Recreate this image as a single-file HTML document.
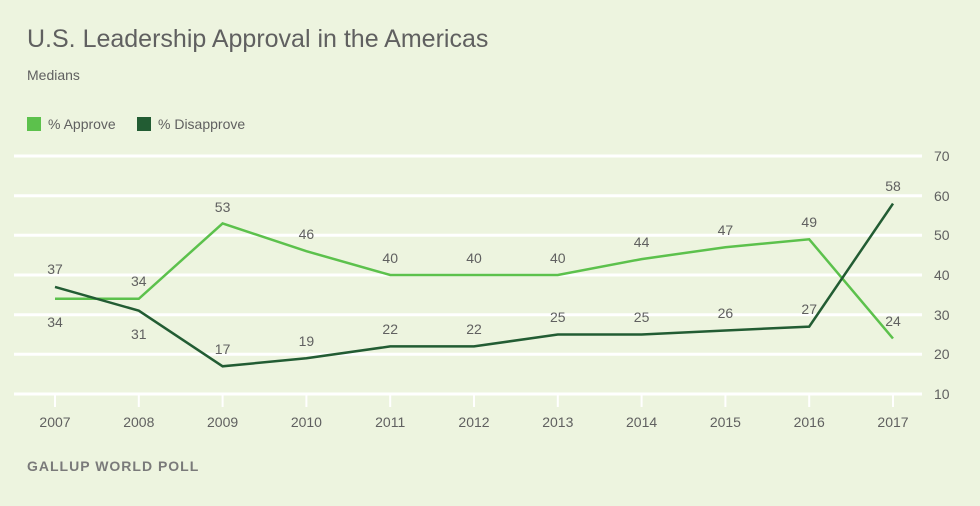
<!DOCTYPE html>
<html><head><style>
html,body{margin:0;padding:0;background:#edf4df;overflow:hidden;width:980px;height:506px;}
svg{display:block;}
svg text{font-family:"Liberation Sans",sans-serif;}
</style></head><body>
<svg width="980" height="506" xmlns="http://www.w3.org/2000/svg">
<rect width="980" height="506" fill="#edf4df"/>
<text x="27" y="47" font-size="25" fill="#606060">U.S. Leadership Approval in the Americas</text>
<text x="27" y="80" font-size="14" fill="#606060">Medians</text>
<rect x="27" y="117" width="14" height="14" fill="#5cc14c"/>
<text x="48" y="129" font-size="14" fill="#606060">% Approve</text>
<rect x="137" y="117" width="14" height="14" fill="#225c33"/>
<text x="158" y="129" font-size="14" fill="#606060">% Disapprove</text>
<g stroke="#fff" stroke-width="3">
<line x1="14" x2="922" y1="156" y2="156"/>
<line x1="14" x2="922" y1="195.7" y2="195.7"/>
<line x1="14" x2="922" y1="235.3" y2="235.3"/>
<line x1="14" x2="922" y1="275" y2="275"/>
<line x1="14" x2="922" y1="314.7" y2="314.7"/>
<line x1="14" x2="922" y1="354.3" y2="354.3"/>
<line x1="14" x2="922" y1="394" y2="394"/>
</g>
<g stroke="#fff" stroke-width="2">
<line x1="55" x2="55" y1="394" y2="407"/><line x1="138.8" x2="138.8" y1="394" y2="407"/><line x1="222.6" x2="222.6" y1="394" y2="407"/><line x1="306.4" x2="306.4" y1="394" y2="407"/><line x1="390.2" x2="390.2" y1="394" y2="407"/><line x1="474" x2="474" y1="394" y2="407"/><line x1="557.8" x2="557.8" y1="394" y2="407"/><line x1="641.6" x2="641.6" y1="394" y2="407"/><line x1="725.4" x2="725.4" y1="394" y2="407"/><line x1="809.2" x2="809.2" y1="394" y2="407"/><line x1="893" x2="893" y1="394" y2="407"/>
</g>
<g font-size="14" fill="#606060">
<text x="934" y="161">70</text><text x="934" y="201">60</text><text x="934" y="240">50</text><text x="934" y="280">40</text><text x="934" y="320">30</text><text x="934" y="359">20</text><text x="934" y="399">10</text>
</g>
<g font-size="14" fill="#606060" text-anchor="middle">
<text x="55" y="427">2007</text><text x="138.8" y="427">2008</text><text x="222.6" y="427">2009</text><text x="306.4" y="427">2010</text><text x="390.2" y="427">2011</text><text x="474" y="427">2012</text><text x="557.8" y="427">2013</text><text x="641.6" y="427">2014</text><text x="725.4" y="427">2015</text><text x="809.2" y="427">2016</text><text x="893" y="427">2017</text>
</g>
<polyline fill="none" stroke="#5cc14c" stroke-width="2.5" points="55,298.8 138.8,298.8 222.6,223.4 306.4,251.2 390.2,275 474,275 557.8,275 641.6,259.1 725.4,247.2 809.2,239.3 893,338.5"/>
<polyline fill="none" stroke="#225c33" stroke-width="2.5" points="55,286.9 138.8,310.7 222.6,366.3 306.4,358.3 390.2,346.4 474,346.4 557.8,334.5 641.6,334.5 725.4,330.5 809.2,326.6 893,203.6"/>
<g font-size="14" fill="#606060" text-anchor="middle">
<text x="55" y="327">34</text><text x="138.8" y="286">34</text><text x="222.6" y="212">53</text><text x="306.4" y="239">46</text><text x="390.2" y="263">40</text><text x="474" y="263">40</text><text x="557.8" y="263">40</text><text x="641.6" y="247">44</text><text x="725.4" y="235">47</text><text x="809.2" y="227">49</text><text x="893" y="326">24</text>
<text x="55" y="274">37</text><text x="138.8" y="339">31</text><text x="222.6" y="354">17</text><text x="306.4" y="346">19</text><text x="390.2" y="334">22</text><text x="474" y="334">22</text><text x="557.8" y="322">25</text><text x="641.6" y="322">25</text><text x="725.4" y="318">26</text><text x="809.2" y="314">27</text><text x="893" y="191">58</text>
</g>
<text x="27" y="471" font-size="14" font-weight="bold" fill="#7a7a7a" letter-spacing="1">GALLUP WORLD POLL</text>
</svg>
</body></html>
